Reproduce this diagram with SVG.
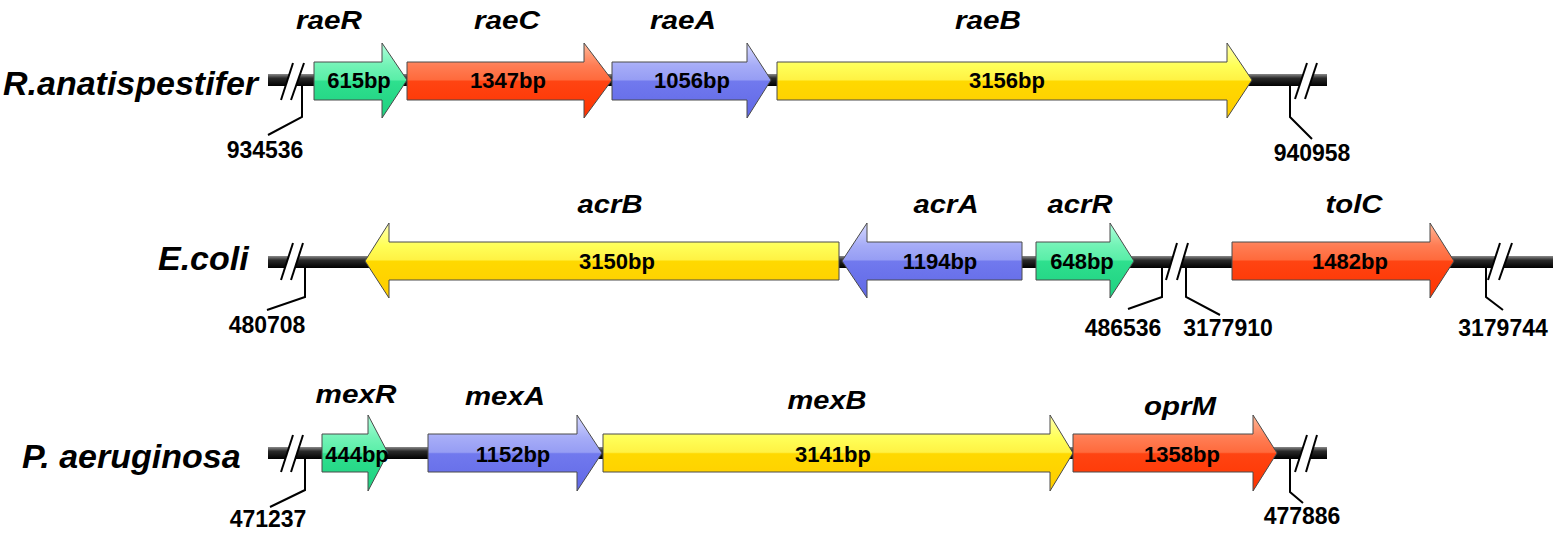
<svg xmlns="http://www.w3.org/2000/svg" width="1557" height="533" viewBox="0 0 1557 533">
<style>
.sp{font-family:"Liberation Sans",Arial,sans-serif;font-weight:bold;font-style:italic;font-size:34px;fill:#000}
.gn{font-family:"Liberation Sans",Arial,sans-serif;font-weight:bold;font-style:italic;font-size:26px;fill:#000;text-anchor:middle}
.bp{font-family:"Liberation Sans",Arial,sans-serif;font-weight:bold;font-size:22px;fill:#000;text-anchor:middle}
.pos{font-family:"Liberation Sans",Arial,sans-serif;font-weight:bold;font-size:23px;fill:#000;text-anchor:middle}
.arrow{stroke:#4a4a4a;stroke-width:1}
.g{fill:url(#gGreen)}.r{fill:url(#gRed)}.b{fill:url(#gBlue)}.y{fill:url(#gYellow)}
.bb{fill:url(#gBack)}
.gap{fill:#fff;stroke:none}
.sl{stroke:#000;stroke-width:2;fill:none}
.ld{fill:none;stroke:#000;stroke-width:2}
</style>
<defs>
<linearGradient id="gGreen" x1="0" y1="0" x2="0" y2="1">
<stop offset="0" stop-color="#b0ffdc"/><stop offset="0.3" stop-color="#72f3b6"/><stop offset="0.49" stop-color="#5aeea8"/><stop offset="0.51" stop-color="#2ee08e"/><stop offset="1" stop-color="#1fcf80"/>
</linearGradient>
<linearGradient id="gRed" x1="0" y1="0" x2="0" y2="1">
<stop offset="0" stop-color="#ffb898"/><stop offset="0.3" stop-color="#ff7d54"/><stop offset="0.49" stop-color="#ff6a3c"/><stop offset="0.51" stop-color="#ff4412"/><stop offset="1" stop-color="#ff3300"/>
</linearGradient>
<linearGradient id="gBlue" x1="0" y1="0" x2="0" y2="1">
<stop offset="0" stop-color="#d6d9ff"/><stop offset="0.3" stop-color="#a6acf7"/><stop offset="0.49" stop-color="#969df4"/><stop offset="0.51" stop-color="#7179ee"/><stop offset="1" stop-color="#6068e6"/>
</linearGradient>
<linearGradient id="gYellow" x1="0" y1="0" x2="0" y2="1">
<stop offset="0" stop-color="#ffffb0"/><stop offset="0.3" stop-color="#ffff58"/><stop offset="0.49" stop-color="#fff244"/><stop offset="0.51" stop-color="#ffd900"/><stop offset="1" stop-color="#ffcc00"/>
</linearGradient>
<linearGradient id="gBack" x1="0" y1="0" x2="0" y2="1">
<stop offset="0" stop-color="#8a8a8a"/><stop offset="0.35" stop-color="#2a2a2a"/><stop offset="1" stop-color="#000"/>
</linearGradient>
</defs>

<g id="backbones">
<rect class="bb" x="268" y="74" width="1059" height="12"/>
<rect class="bb" x="268" y="256" width="1285" height="12"/>
<rect class="bb" x="268" y="447" width="1059" height="12"/>
</g>

<g id="species">
<text class="sp" x="3" y="95">R.anatispestifer</text>
<text class="sp" x="158" y="270">E.coli</text>
<text class="sp" x="22" y="468">P. aeruginosa</text>
</g>

<!-- Row 1 -->
<g id="raeR">
<polygon class="arrow g" points="314,62 382,62 382,43 407,80 382,118 382,100 314,100"/>
<text class="gn" x="329" y="29" textLength="66" lengthAdjust="spacingAndGlyphs">raeR</text>
<text class="bp" x="359" y="88">615bp</text>
</g>
<g id="raeC">
<polygon class="arrow r" points="407,62 584,62 584,43 612,80 584,118 584,100 407,100"/>
<text class="gn" x="507" y="29" textLength="66" lengthAdjust="spacingAndGlyphs">raeC</text>
<text class="bp" x="508" y="88">1347bp</text>
</g>
<g id="raeA">
<polygon class="arrow b" points="612,62 747,62 747,43 771,80 747,118 747,100 612,100"/>
<text class="gn" x="683" y="29" textLength="66" lengthAdjust="spacingAndGlyphs">raeA</text>
<text class="bp" x="692" y="88">1056bp</text>
</g>
<g id="raeB">
<polygon class="arrow y" points="777,62 1227,62 1227,43 1252,80 1227,118 1227,100 777,100"/>
<text class="gn" x="988" y="29" textLength="66" lengthAdjust="spacingAndGlyphs">raeB</text>
<text class="bp" x="1007" y="88">3156bp</text>
</g>

<!-- Row 2 -->
<g id="acrB">
<polygon class="arrow y" points="839,242 389,242 389,223 365,261 389,298 389,280 839,280"/>
<text class="gn" x="610" y="213" textLength="65" lengthAdjust="spacingAndGlyphs">acrB</text>
<text class="bp" x="617" y="269">3150bp</text>
</g>
<g id="acrA">
<polygon class="arrow b" points="1022,242 867,242 867,223 842,261 867,298 867,280 1022,280"/>
<text class="gn" x="946" y="213" textLength="65" lengthAdjust="spacingAndGlyphs">acrA</text>
<text class="bp" x="940" y="269">1194bp</text>
</g>
<g id="acrR">
<polygon class="arrow g" points="1036,242 1110,242 1110,223 1134,261 1110,298 1110,280 1036,280"/>
<text class="gn" x="1080" y="213" textLength="65" lengthAdjust="spacingAndGlyphs">acrR</text>
<text class="bp" x="1082" y="269">648bp</text>
</g>
<g id="tolC">
<polygon class="arrow r" points="1232,242 1430,242 1430,223 1454,261 1430,298 1430,280 1232,280"/>
<text class="gn" x="1354" y="213" textLength="57" lengthAdjust="spacingAndGlyphs">tolC</text>
<text class="bp" x="1350" y="269">1482bp</text>
</g>

<!-- Row 3 -->
<g id="mexR">
<polygon class="arrow g" points="322,434 368,434 368,415 388,453 368,491 368,472 322,472"/>
<text class="gn" x="356" y="403" textLength="81" lengthAdjust="spacingAndGlyphs">mexR</text>
<text class="bp" x="357" y="462">444bp</text>
</g>
<g id="mexA">
<polygon class="arrow b" points="428,434 577,434 577,415 602,453 577,491 577,472 428,472"/>
<text class="gn" x="505" y="405" textLength="80" lengthAdjust="spacingAndGlyphs">mexA</text>
<text class="bp" x="513" y="462">1152bp</text>
</g>
<g id="mexB">
<polygon class="arrow y" points="603,434 1050,434 1050,415 1073,453 1050,491 1050,472 603,472"/>
<text class="gn" x="827" y="409" textLength="79" lengthAdjust="spacingAndGlyphs">mexB</text>
<text class="bp" x="833" y="462">3141bp</text>
</g>
<g id="oprM">
<polygon class="arrow r" points="1073,434 1253,434 1253,415 1277,453 1253,491 1253,472 1073,472"/>
<text class="gn" x="1180" y="415" textLength="72" lengthAdjust="spacingAndGlyphs">oprM</text>
<text class="bp" x="1182" y="462">1358bp</text>
</g>

<g id="breaks">
<polygon class="gap" points="281,100 293,63 304,63 291,100"/>
<line class="sl" x1="281" y1="100" x2="293" y2="63"/><line class="sl" x1="291" y1="100" x2="304" y2="63"/>
<polygon class="gap" points="1295,99 1307,63 1317,63 1305,99"/>
<line class="sl" x1="1295" y1="99" x2="1307" y2="63"/><line class="sl" x1="1305" y1="99" x2="1317" y2="63"/>
<polygon class="gap" points="281,280 293,243 303,243 291,280"/>
<line class="sl" x1="281" y1="280" x2="293" y2="243"/><line class="sl" x1="291" y1="280" x2="303" y2="243"/>
<polygon class="gap" points="1166,280 1177,243 1188,243 1177,280"/>
<line class="sl" x1="1166" y1="280" x2="1177" y2="243"/><line class="sl" x1="1177" y1="280" x2="1188" y2="243"/>
<polygon class="gap" points="1488,280 1500,243 1512,243 1499,280"/>
<line class="sl" x1="1488" y1="280" x2="1500" y2="243"/><line class="sl" x1="1499" y1="280" x2="1512" y2="243"/>
<polygon class="gap" points="281,472 293,435 303,435 291,472"/>
<line class="sl" x1="281" y1="472" x2="293" y2="435"/><line class="sl" x1="291" y1="472" x2="303" y2="435"/>
<polygon class="gap" points="1295,472 1307,435 1317,435 1306,472"/>
<line class="sl" x1="1295" y1="472" x2="1307" y2="435"/><line class="sl" x1="1306" y1="472" x2="1317" y2="435"/>
</g>

<g id="connectors">
<polyline class="ld" points="302,86 302,117 268,135"/>
<polyline class="ld" points="1290,86 1290,117 1312,139"/>
<polyline class="ld" points="305,268 305,297 267,310"/>
<polyline class="ld" points="1162,268 1162,297 1128,309"/>
<polyline class="ld" points="1186,268 1186,297 1220,315"/>
<polyline class="ld" points="1486,268 1486,297 1503,310"/>
<polyline class="ld" points="305,459 305,490 270,507"/>
<polyline class="ld" points="1290,459 1290,492 1303,503"/>
</g>

<g id="positions">
<text class="pos" x="265" y="158">934536</text>
<text class="pos" x="1312" y="161">940958</text>
<text class="pos" x="267" y="333">480708</text>
<text class="pos" x="1123" y="336">486536</text>
<text class="pos" x="1228" y="336">3177910</text>
<text class="pos" x="1503" y="336">3179744</text>
<text class="pos" x="268" y="527">471237</text>
<text class="pos" x="1302" y="524">477886</text>
</g>
</svg>
